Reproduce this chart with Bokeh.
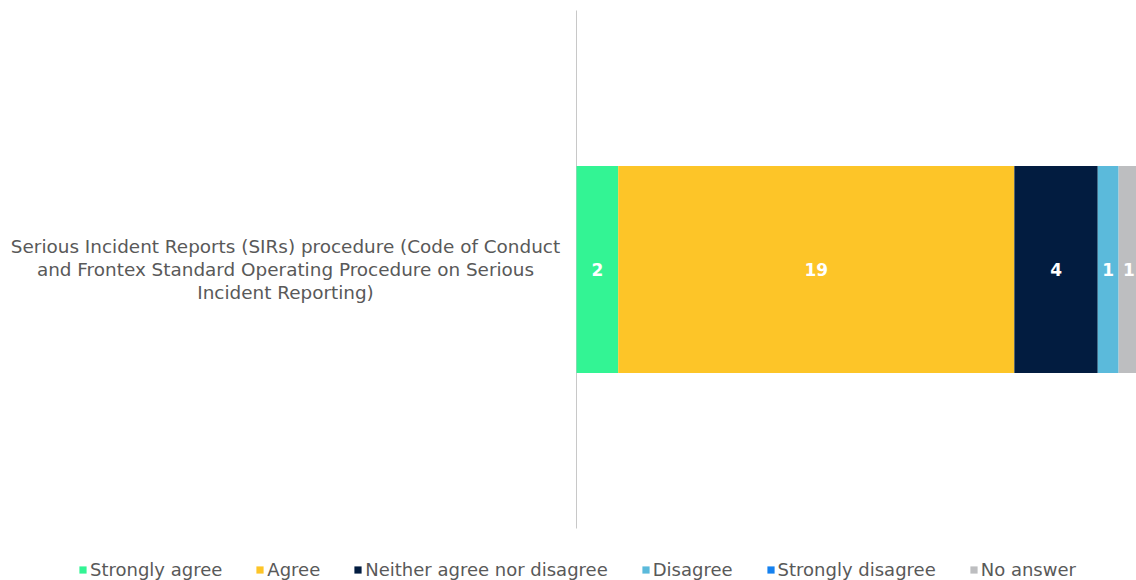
from bokeh.plotting import figure
from bokeh.models import Range1d, Legend, LegendItem, Label
from bokeh.core.properties import value
from bokeh.embed import file_html
from bokeh.resources import INLINE

category_label = ("Serious Incident Reports (SIRs) procedure (Code of Conduct\n"
                  "and Frontex Standard Operating Procedure on Serious\n"
                  "Incident Reporting)")
categories = [category_label]
series = ["Strongly agree", "Agree", "Neither agree nor disagree",
          "Disagree", "Strongly disagree", "No answer"]
counts = [2, 19, 4, 1, 0, 1]
colors = ["#33F494", "#FDC528", "#021C40", "#5BBADB", "#1581EF", "#BDBEC0"]

total = sum(counts)
W, H = 1136, 580
frame_left_px = 576
px_per_unit = 20.85
x_start = -frame_left_px / px_per_unit
x_end = (W - frame_left_px) / px_per_unit

# one category at y index 0; the category band (axis) spans -0.5..0.5
band_px = 518
top_px = 10
y_end = 0.5 + top_px / band_px
y_start = 0.5 - (H - top_px) / band_px

p = figure(width=W, height=H, output_backend="svg", toolbar_location=None,
           x_range=Range1d(x_start, x_end), y_range=Range1d(y_start, y_end),
           min_border=0)
p.outline_line_color = None
p.grid.visible = False
p.axis.visible = False

# category axis line
p.segment(x0=[0], x1=[0], y0=[-0.5], y1=[0.5], line_color="#C8C8C8", line_width=1)

items = []
for ci, cat in enumerate(categories):
    left = 0
    lx, ly, lt = [], [], []
    for name, c, col in zip(series, counts, colors):
        r = p.hbar(y=[ci], left=[left], right=[left + c], height=0.4,
                   fill_color=col, line_color=None)
        items.append(LegendItem(label=name, renderers=[r]))
        if c > 0:
            lx.append(left + c / 2)
            ly.append(ci)
            lt.append(str(c))
        left += c
    p.text(x=lx, y=ly, text=lt, text_align="center", text_baseline="middle",
           text_color="white", text_font=value("DejaVu Sans"), text_font_style="bold",
           text_font_size="17px")
    lab = Label(x=x_start + 285 / px_per_unit, y=ci, text=cat, text_align="center",
                text_baseline="middle", text_font="DejaVu Sans", text_font_size="18.4px",
                text_color="#595959", text_line_height=1.08)
    p.add_layout(lab)

legend = Legend(items=items, orientation="horizontal", location=(78, 0),
                label_text_font="DejaVu Sans", label_text_font_size="18px",
                label_text_color="#595959", glyph_width=9, glyph_height=9,
                label_standoff=3, spacing=33, padding=0, margin=0,
                border_line_color=None, background_fill_alpha=0)
p.add_layout(legend, "center")

open("out.html", "w").write(file_html(p, INLINE))
